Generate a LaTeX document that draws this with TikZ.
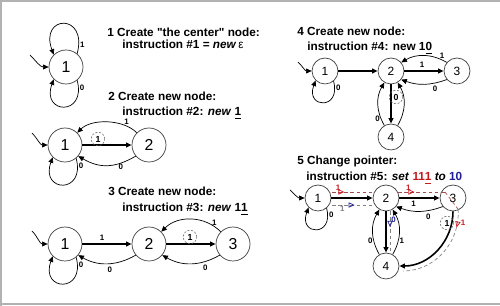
\documentclass[tikz,border=0pt]{standalone}
\usepackage{fontspec}
\setmainfont{Liberation Sans}
\usetikzlibrary{arrows.meta,decorations.markings}
\definecolor{setred}{RGB}{200,25,30}
\definecolor{setblue}{RGB}{30,30,150}

\begin{document}
\begin{tikzpicture}[x=0.02cm, y=-0.02cm, >={Triangle[length=3.2pt,width=2.8pt]},
  bstate/.style={circle, draw=black!75, line width=0.4pt, minimum size=0.68cm, inner sep=0pt, font=\fontsize{9}{9}\selectfont},
  sstate/.style={bstate, minimum size=0.52cm, font=\fontsize{6.8}{7}\selectfont},
  lbl/.style={font=\fontsize{4.5}{5}\selectfont\bfseries, inner sep=0.6pt},
  dcirc/.style={circle, draw=black!60, dash pattern=on 1.2pt off 0.9pt, line width=0.3pt, minimum size=0.27cm, inner sep=0pt, font=\fontsize{5}{5}\selectfont\bfseries},
  sedge/.style={->, line width=0.8pt},
  arcedge/.style={->, line width=0.4pt},
  txt/.style={anchor=base west, inner sep=0pt, font=\fontsize{6.7}{8}\selectfont\bfseries},
  path111/.style={setred!50!gray, dash pattern=on 2pt off 1.5pt, line width=0.4pt},
  path10/.style={gray, dash pattern=on 2pt off 1.5pt, line width=0.4pt},
  rtip/.style={postaction={decorate}, decoration={markings, mark=at position #1 with {\arrow[setred, line width=0.4pt]{Triangle[open,length=3.4pt,width=3pt]}}}},
  btip/.style={postaction={decorate}, decoration={markings, mark=at position #1 with {\arrow[setblue, line width=0.4pt]{Triangle[open,length=3.4pt,width=3pt]}}}}]
  \useasboundingbox (0,0) rectangle (500,306);
  % frame
  \draw[gray!60, line width=0.8pt] (0,1) -- (500,1);
  \draw[gray!60, line width=0.8pt] (1,0) -- (1,306);
  \draw[gray!60, line width=0.8pt] (0,304) -- (500,304);

  % 1: the center
  \coordinate (a0) at (30,55);
  \node[bstate] (a1) at (66,67) {1};
  \draw[arcedge] (a0) to[out=-45,in=180] (a1);
  \draw[arcedge] (a1.50) .. controls +(75:0.85cm) and +(110:0.85cm) .. (a1.135) node[lbl, pos=0.08, right] {1};
  \draw[arcedge] (a1.-50) .. controls +(-75:0.75cm) and +(-110:0.75cm) .. (a1.-135) node[lbl, pos=0.08, right] {0};
  \node[txt] (t1) at (107,37) {1 Create \textquotedbl the center\textquotedbl\ node:};
  \node[txt] (t1b) at (122,49) {instruction \#1 = \textit{new}\,{\mdseries ε}};

  % 2: new 1
  \coordinate (b0) at (32,133);
  \node[bstate] (b1) at (65,145) {1};
  \node[bstate] (b2) at (149,145) {2};
  \draw[arcedge] (b0) to[out=-45,in=180] (b1);
  \draw[sedge] (b1) -- (b2);
  \draw[arcedge] (b2.135) to[out=135,in=45,looseness=0.85] node[lbl, pos=0.2, above] {1} (b1.45);
  \draw[arcedge] (b2.-140) to[out=-150,in=-30,looseness=1.1] node[lbl, pos=0.25, below] {0} (b1.-40);
  \draw[arcedge] (b1.-50) .. controls +(-75:0.75cm) and +(-110:0.75cm) .. (b1.-135) node[lbl, pos=0.08, right] {0};
  \node[dcirc] (b3) at (98,139) {1};
  \node[txt] (t2) at (108,101) {2 Create new node:};
  \node[txt] (t2b) at (122,116) {instruction \#2: \textit{new} \underline{1}};

  % 3: new 11
  \coordinate (c0) at (32,231);
  \node[bstate] (c1) at (65,244) {1};
  \node[bstate] (c2) at (149,244) {2};
  \node[bstate] (c3) at (233,244) {3};
  \draw[arcedge] (c0) to[out=-45,in=180] (c1);
  \draw[sedge] (c1) -- node[lbl, pos=0.4, above=1pt] {1} (c2);
  \draw[arcedge] (c2.-140) to[out=-150,in=-30] node[lbl, pos=0.45, below=1pt] {0} (c1.-40);
  \draw[arcedge] (c1.-50) .. controls +(-75:0.75cm) and +(-110:0.75cm) .. (c1.-135) node[lbl, pos=0.08, right] {0};
  \draw[sedge] (c2) -- (c3);
  \draw[arcedge] (c3.135) to[out=135,in=45] node[lbl, pos=0.12, above] {1} (c2.45);
  \draw[arcedge] (c3.-140) to[out=-150,in=-30] node[lbl, pos=0.25, below=1pt] {0} (c2.-40);
  \node[dcirc] (c4) at (190,237) {1};
  \node[txt] (t3) at (108,196) {3 Create new node:};
  \node[txt] (t3b) at (122,212) {instruction \#3: \textit{new} 1\underline{1}};

  % 4: new 10
  \coordinate (d0) at (298,62);
  \node[sstate] (d1) at (325,71) {1};
  \node[sstate] (d2) at (391,71) {2};
  \node[sstate] (d3) at (457,71) {3};
  \node[sstate] (d4) at (391,137) {4};
  \draw[arcedge] (d0) to[out=-45,in=180] (d1);
  \draw[sedge] (d1) -- (d2);
  \draw[arcedge] (d1.-50) .. controls +(-75:0.6cm) and +(-110:0.6cm) .. (d1.-135) node[lbl, pos=0.08, right] {0};
  \draw[sedge] (d2) -- node[lbl, pos=0.45, above=1pt] {1} (d3);
  \draw[arcedge] (d3.140) to[out=150,in=30] node[lbl, pos=0.1, above] {1} (d2.40);
  \draw[arcedge] (d3.-140) to[out=-160,in=-20] node[lbl, pos=0.25, below=1pt] {0} (d2.-40);
  \draw[sedge] (d2) -- (d4);
  \draw[arcedge] (d4.120) to[out=120,in=-120] node[lbl, pos=0.15, left] {0} (d2.-120);
  \draw[arcedge] (d4.60) to[out=60,in=-60] (d2.-60);
  \node[dcirc] (d5) at (396,97) {0};
  \node[txt] (t4) at (297,36) {4 Create new node:};
  \node[txt] (t4b) at (307,51) {instruction \#4: new 1\underline{0}};

  % 5: set 111 to 10
  \coordinate (e0) at (290,190);
  \node[sstate] (e1) at (318,198) {1};
  \node[sstate] (e2) at (386,198) {2};
  \node[sstate] (e3) at (453,198) {3};
  \node[sstate] (e4) at (386,266) {4};
  \draw[arcedge] (e0) to[out=-45,in=180] (e1);
  \draw[sedge] (e1) -- (e2);
  \draw[arcedge] (e1.-50) .. controls +(-75:0.6cm) and +(-110:0.6cm) .. (e1.-135) node[lbl, pos=0.08, right] {0};
  \draw[sedge] (e2) -- node[lbl, pos=0.35, below=1pt] {1} (e3);
  \draw[arcedge] (e3.-140) to[out=-160,in=-20] node[lbl, pos=0.3, below=1pt] {0} (e2.-40);
  \draw[sedge] (e2) -- (e4);
  \draw[arcedge] (e4.120) to[out=120,in=-120] node[lbl, pos=0.3, left=0pt] {0} (e2.-120);
  \draw[arcedge] (e4.60) to[out=60,in=-60] node[lbl, pos=0.3, right=0pt] {1} (e2.-60);
  \draw[sedge, line width=0.9pt] (e3) to[out=-90,in=0] (e4);
  \node[dcirc] (e5) at (447,223) {1};
  % path 111
  \coordinate (p1) at (332,192); \coordinate (p2) at (373,192);
  \coordinate (p3) at (398,192); \coordinate (p4) at (445,192);
  \coordinate (p5) at (458,209); \coordinate (p6) at (403,271);
  \draw[path111, rtip=0.3] (p1) -- node[lbl, setred, pos=0.15, above] {1} (p2);
  \draw[path111, rtip=0.35] (p3) -- node[lbl, setred, pos=0.22, above] {1} (p4);
  \draw[path111] (p4) -- (p5);
  \draw[path10, rtip=0.2] (p5) to[out=-85,in=0] node[lbl, setred, pos=0.14, right=1pt] {1} (p6);
  % path 10
  \coordinate (q1) at (332,205); \coordinate (q2) at (373,205);
  \coordinate (q3) at (390,211); \coordinate (q4) at (390,253);
  \draw[path10, btip=0.55] (q1) -- node[lbl, pos=0.25, below] {1} (q2);
  \draw[path10, btip=0.38] (q3) -- node[lbl, setblue, pos=0.22, right] {0} (q4);
  \node[txt] (t5) at (297,165) {5 Change pointer:};
  \node[txt] (t5b) at (306,181) {instruction \#5: \textit{set} \textcolor{setred}{11\underline{1}} \textit{to} \textcolor{setblue}{10}};
\end{tikzpicture}
\end{document}
